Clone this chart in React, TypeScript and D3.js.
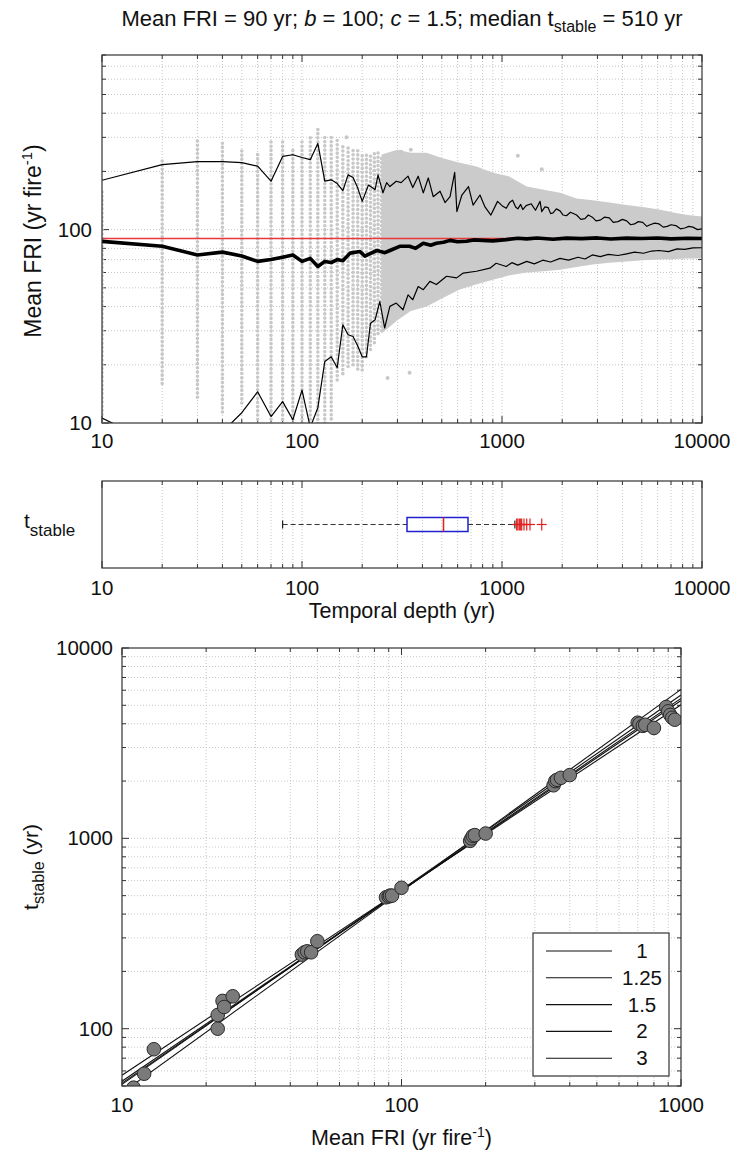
import React from 'react';
import * as d3 from 'd3';

const FONT = "'Liberation Sans', Arial, Helvetica, sans-serif";

// ---------- Top panel: sample mean FRI vs temporal depth ----------
const colDepth = [10, 20, 30, 40, 50, 60, 70, 80, 90, 100, 110, 120, 130, 140, 150, 160, 170, 180, 190, 200, 210, 220, 230, 240, 250];
const colLo = [10, 16, 13.6, 11.4, 12.7, 9, 9, 9, 9, 9, 9, 9, 9.5, 10.5, 16.7, 18, 19.6, 20, 19, 18.8, 22, 24, 26, 29, 30];
const colHi = [157, 236, 297, 284, 259, 253, 292, 292, 259, 284, 303, 342, 310, 300, 290, 280, 270, 265, 260, 250, 245, 250, 255, 250, 245];

const cloudDepth = [250, 300, 350, 420, 500, 615, 740, 900, 1080, 1330, 1620, 1950, 2360, 2830, 3440, 4200, 5050, 6100, 7400, 8500, 10000];
const cloudLo = [29, 34, 38, 40, 44, 49, 52, 55, 58, 60, 61, 62, 64, 66, 67.5, 68.5, 69.5, 70, 70.5, 71, 71];
const cloudHi = [245, 259, 250, 250, 235, 222, 213, 197, 189, 167, 161, 155, 145, 142, 138, 134, 131, 127, 122, 119, 117];

const outDepth = [167, 313, 350, 1200, 1580, 345, 268];
const outFRI = [300, 253, 259, 241, 205, 18.2, 17.1];

const upperDepth = [10, 20, 30, 40, 50, 60, 70, 80, 90, 100, 110, 120, 130, 140, 150, 160, 170, 180, 190, 200, 215, 232, 240, 254, 265, 275, 296, 313, 339, 358, 381, 404, 428, 453, 490, 519, 550, 580, 595, 630, 680, 717, 776, 822, 880, 950, 1000, 1050, 1090, 1130, 1170, 1200, 1240, 1270, 1320, 1400, 1470, 1550, 1580, 1640, 1700, 1750, 1800, 1870, 1950, 2020, 2100, 2200, 2360, 2480, 2600, 2700, 2830, 2950, 3100, 3250, 3440, 3600, 3800, 4000, 4200, 4400, 4600, 4800, 5050, 5300, 5500, 5800, 6100, 6400, 6700, 7000, 7400, 7800, 8200, 8600, 9000, 9500, 10000];
const upperFRI = [180, 217, 225, 225, 222, 213, 178, 239, 244, 236, 230, 279, 178, 181, 173, 159, 192, 186, 164, 140, 170, 161, 192, 155, 175, 167, 178, 175, 189, 165, 189, 155, 185, 148, 158, 138, 148, 198, 124, 151, 167, 134, 151, 131, 119, 140, 133, 129, 138, 142, 131, 128, 135, 127, 133, 136, 126, 140, 124, 131, 130, 121, 122, 128, 125, 119, 118, 123, 119, 113, 114, 119, 116, 111, 112, 116, 115, 109, 110, 113, 111, 106, 107, 110, 109, 104, 106, 108, 107, 103, 104, 106, 105, 101, 102, 104, 103, 100, 101];

const meanDepth = [10, 20, 30, 40, 50, 60, 70, 80, 90, 100, 110, 120, 130, 140, 150, 160, 174, 195, 206, 237, 260, 275, 308, 345, 370, 404, 440, 470, 510, 550, 600, 665, 720, 800, 900, 1050, 1200, 1330, 1500, 1800, 2100, 2500, 3000, 3500, 4200, 5000, 6000, 7000, 8500, 10000];
const meanFRI = [87, 82, 74, 76.5, 73, 68.5, 70, 72, 74, 68.5, 71, 64.5, 68.5, 67.6, 70, 69, 75.6, 77, 73, 78, 76, 78, 82, 82, 80, 85, 83, 85, 86, 88, 86.5, 87, 88.5, 88, 87.5, 88.8, 90.3, 89.6, 90.5, 89.2, 90.4, 89.8, 90.6, 89.5, 90.4, 89.9, 90.5, 89.6, 90.3, 90];

const lowerDepth = [10, 20, 30, 40, 50, 60, 70, 80, 90, 100, 110, 120, 130, 140, 150, 160, 170, 180, 190, 200, 210, 220, 232, 245, 259, 275, 296, 320, 339, 358, 381, 404, 436, 470, 528, 593, 640, 745, 870, 935, 1050, 1120, 1200, 1330, 1450, 1600, 1750, 1950, 2150, 2400, 2600, 2830, 3100, 3400, 3800, 4200, 4600, 5100, 5600, 6100, 6800, 7500, 8200, 9000, 10000];
const lowerFRI = [10.6, 7.5, 7, 9, 11.3, 14.5, 10.8, 12.9, 10.4, 14.8, 9.5, 12, 20.8, 22, 19.3, 32.2, 28.6, 28, 25, 22, 22, 32.8, 34.2, 42.5, 31, 40.1, 41.7, 38.5, 46, 43.4, 50.8, 48.9, 54, 52, 57.4, 56.3, 59.6, 60.9, 63.2, 67, 64.5, 67.5, 65.5, 68.5, 66.5, 69.5, 68, 71, 69.5, 72, 70.5, 74, 72.5, 74.5, 73.5, 75, 76.5, 75.5, 77.5, 78, 77, 79.5, 79, 80.5, 80.6];

const trueFRI = 90;

// ---------- Middle panel: box plot of t_stable ----------
const boxWhiskerLo = 80;
const boxQ1 = 335;
const boxMedian = 510;
const boxQ3 = 676;
const boxWhiskerHi = 1160;
const boxOutliers = [1184, 1200, 1221, 1240, 1254, 1288, 1329, 1380, 1580];

// ---------- Bottom panel: t_stable vs mean FRI ----------
const ptFRI = [11, 12, 13, 22, 22, 22.9, 23.2, 24.9, 44, 45, 46, 47.5, 50, 88, 90, 91, 92.5, 100, 176, 178, 180, 183, 200, 350, 355, 360, 372, 400, 700, 710, 730, 745, 800, 885, 900, 915, 930, 950];
const ptStable = [49, 58, 78, 100, 118, 140, 130, 148, 245, 252, 255, 252, 288, 490, 495, 500, 500, 550, 970, 1000, 1030, 1040, 1060, 1900, 2000, 2030, 2080, 2150, 4050, 4000, 3900, 3950, 3800, 4900, 4650, 4450, 4300, 4200];

const fitLabels = ['1', '1.25', '1.5', '2', '3'];
const fitAt10 = [57, 53, 51.8, 51, 46];
const fitAt1000 = [5030, 5300, 5440, 5660, 6060];

function logTicks(lo: number, hi: number) {
  const out: { v: number; major: boolean }[] = [];
  for (let e = Math.floor(Math.log10(lo)); e <= Math.ceil(Math.log10(hi)); e++) {
    for (let k = 1; k < 10; k++) {
      const v = k * Math.pow(10, e);
      if (v >= lo * 0.999 && v <= hi * 1.001) out.push({ v, major: k === 1 });
    }
  }
  return out;
}

const GRID = { stroke: '#b8b8b8', strokeWidth: 0.8, strokeDasharray: '1,2' };
const AX = '#333';

function Frame({ x0, x1, y0, y1 }: any) {
  return <rect x={x0} y={y0} width={x1 - x0} height={y1 - y0} fill="none" stroke={AX} strokeWidth={1.2} />;
}

function XGridTicks({ sx, y0, y1 }: any) {
  const [lo, hi] = sx.domain();
  const ts = logTicks(lo, hi);
  return (
    <g>
      {ts.map((t, i) => {
        const x = sx(t.v);
        const len = t.major ? 7 : 4;
        const edge = Math.abs(t.v - lo) < 1e-6 || Math.abs(t.v - hi) < 1e-6;
        return (
          <g key={i}>
            {!edge && <line x1={x} x2={x} y1={y0} y2={y1} {...GRID} />}
            <line x1={x} x2={x} y1={y1} y2={y1 - len} stroke={AX} strokeWidth={1} />
            <line x1={x} x2={x} y1={y0} y2={y0 + len} stroke={AX} strokeWidth={1} />
          </g>
        );
      })}
    </g>
  );
}

function YGridTicks({ sy, x0, x1 }: any) {
  const [lo, hi] = sy.domain();
  const ts = logTicks(lo, hi);
  return (
    <g>
      {ts.map((t, i) => {
        const y = sy(t.v);
        const len = t.major ? 7 : 4;
        const edge = Math.abs(t.v - lo) < 1e-6 || Math.abs(t.v - hi) < 1e-6;
        return (
          <g key={i}>
            {!edge && <line x1={x0} x2={x1} y1={y} y2={y} {...GRID} />}
            <line x1={x0} x2={x0 + len} y1={y} y2={y} stroke={AX} strokeWidth={1} />
            <line x1={x1} x2={x1 - len} y1={y} y2={y} stroke={AX} strokeWidth={1} />
          </g>
        );
      })}
    </g>
  );
}

export default function App() {
  const W = 733, H = 1157;

  // top panel
  const T = { x0: 102, x1: 702, y0: 55, y1: 423 };
  const tx = d3.scaleLog().domain([10, 10000]).range([T.x0, T.x1]);
  const ty = d3.scaleLog().domain([10, 800]).range([T.y1, T.y0]);

  // box panel
  const B = { x0: 102, x1: 702, y0: 481, y1: 568 };
  const bxs = d3.scaleLog().domain([10, 10000]).range([B.x0, B.x1]);
  const bcy = (B.y0 + B.y1) / 2;

  // bottom panel
  const P = { x0: 122, x1: 681, y0: 648, y1: 1086 };
  const px = d3.scaleLog().domain([10, 1000]).range([P.x0, P.x1]);
  const py = d3.scaleLog().domain([50, 10000]).range([P.y1, P.y0]);

  const cloud = cloudDepth.map((t, i) => ({ t, lo: cloudLo[i], hi: cloudHi[i] }));
  const areaGen = d3.area<any>().x(d => tx(d.t)).y0(d => ty(d.lo)).y1(d => ty(d.hi));
  const lineGen = (xs: number[], ys: number[]) =>
    d3.line<number>().x((_, i) => tx(xs[i])).y(v => ty(v))(ys) as string;

  const topXLabels = [10, 100, 1000, 10000];
  const topYLabels = [10, 100];
  const botXLabels = [10, 100, 1000];
  const botYLabels = [100, 1000, 10000];
  const TICKF = 20.5;

  return (
    <svg width={W} height={H} style={{ position: 'absolute', left: 0, top: 0, background: '#fff' }} fontFamily={FONT}>
      <defs>
        <clipPath id="clipTop"><rect x={T.x0} y={T.y0} width={T.x1 - T.x0} height={T.y1 - T.y0} /></clipPath>
        <clipPath id="clipBot"><rect x={P.x0} y={P.y0} width={P.x1 - P.x0} height={P.y1 - P.y0} /></clipPath>
      </defs>
      <rect x={0} y={0} width={W} height={H} fill="#fff" />

      {/* Title */}
      <text x={(T.x0 + T.x1) / 2} y={26} fontSize={22} textAnchor="middle" fill="#111">
        Mean FRI = 90 yr; <tspan fontStyle="italic">b</tspan> = 100; <tspan fontStyle="italic">c</tspan> = 1.5; median t
        <tspan dy={6} fontSize={16}>stable</tspan>
        <tspan dy={-6}> = 510 yr</tspan>
      </text>

      {/* ---------- Top panel ---------- */}
      <XGridTicks sx={tx} y0={T.y0} y1={T.y1} />
      <YGridTicks sy={ty} x0={T.x0} x1={T.x1} />
      <g clipPath="url(#clipTop)">
        {colDepth.map((t, i) => (
          <line key={i} x1={tx(t)} x2={tx(t)} y1={ty(colLo[i])} y2={ty(colHi[i])}
            stroke="#c8c8c8" strokeWidth={3.6} strokeDasharray="0 4.2" strokeLinecap="round" />
        ))}
        <path d={areaGen(cloud) as string} fill="#cbcbcb" />
        {outDepth.map((t, i) => (
          <circle key={i} cx={tx(t)} cy={ty(outFRI[i])} r={2} fill="#c8c8c8" />
        ))}
        <line x1={T.x0} x2={T.x1} y1={ty(trueFRI)} y2={ty(trueFRI)} stroke="#e8383d" strokeWidth={1.3} />
        <path d={lineGen(upperDepth, upperFRI)} fill="none" stroke="#000" strokeWidth={1.2} strokeLinejoin="round" />
        <path d={lineGen(lowerDepth, lowerFRI)} fill="none" stroke="#000" strokeWidth={1.2} strokeLinejoin="round" />
        <path d={lineGen(meanDepth, meanFRI)} fill="none" stroke="#000" strokeWidth={3.6} strokeLinejoin="round" />
      </g>
      <Frame {...T} />
      {topXLabels.map(v => (
        <text key={v} x={tx(v)} y={T.y1 + 25} fontSize={TICKF} textAnchor="middle" fill="#111">{v}</text>
      ))}
      {topYLabels.map(v => (
        <text key={v} x={T.x0 - 10} y={ty(v) + 7} fontSize={TICKF} textAnchor="end" fill="#111">{v}</text>
      ))}
      <text transform={`translate(41, ${(T.y0 + T.y1) / 2 + 2}) rotate(-90)`} fontSize={23} textAnchor="middle" fill="#111">
        Mean FRI (yr fire<tspan dy={-9} fontSize={15}>-1</tspan><tspan dy={9}>)</tspan>
      </text>

      {/* ---------- Box panel ---------- */}
      <XGridTicks sx={bxs} y0={B.y0} y1={B.y1} />
      <line x1={bxs(boxWhiskerLo)} x2={bxs(boxQ1)} y1={bcy} y2={bcy} stroke="#333" strokeWidth={1.2} strokeDasharray="5,3" />
      <line x1={bxs(boxQ3)} x2={bxs(boxWhiskerHi)} y1={bcy} y2={bcy} stroke="#333" strokeWidth={1.2} strokeDasharray="5,3" />
      <line x1={bxs(boxWhiskerLo)} x2={bxs(boxWhiskerLo)} y1={bcy - 4} y2={bcy + 4} stroke="#222" strokeWidth={1.2} />
      <line x1={bxs(boxWhiskerHi)} x2={bxs(boxWhiskerHi)} y1={bcy - 4} y2={bcy + 4} stroke="#222" strokeWidth={1.2} />
      <rect x={bxs(boxQ1)} y={bcy - 7} width={bxs(boxQ3) - bxs(boxQ1)} height={14} fill="none" stroke="#2020d0" strokeWidth={1.5} />
      <line x1={bxs(boxMedian)} x2={bxs(boxMedian)} y1={bcy - 7} y2={bcy + 7} stroke="#e02020" strokeWidth={1.5} />
      {boxOutliers.map((v, i) => (
        <g key={i} stroke="#e02020" strokeWidth={1.2}>
          <line x1={bxs(v) - 5} x2={bxs(v) + 5} y1={bcy} y2={bcy} />
          <line x1={bxs(v)} x2={bxs(v)} y1={bcy - 6} y2={bcy + 6} />
        </g>
      ))}
      <Frame {...B} />
      {topXLabels.map(v => (
        <text key={v} x={bxs(v)} y={B.y1 + 27} fontSize={TICKF} textAnchor="middle" fill="#111">{v}</text>
      ))}
      <text x={(B.x0 + B.x1) / 2} y={B.y1 + 50} fontSize={21.5} textAnchor="middle" fill="#111">Temporal depth (yr)</text>
      <text x={24} y={bcy + 3} fontSize={21} fill="#111">t<tspan dy={8} fontSize={17}>stable</tspan></text>

      {/* ---------- Bottom panel ---------- */}
      <XGridTicks sx={px} y0={P.y0} y1={P.y1} />
      <YGridTicks sy={py} x0={P.x0} x1={P.x1} />
      <g clipPath="url(#clipBot)">
        {fitLabels.map((l, i) => (
          <line key={l} x1={px(10)} x2={px(1000)} y1={py(fitAt10[i])} y2={py(fitAt1000[i])} stroke="#111" strokeWidth={1.1} />
        ))}
        {ptFRI.map((f, i) => (
          <circle key={i} cx={px(f)} cy={py(ptStable[i])} r={6.8} fill="#7a7a7a" stroke="#2a2a2a" strokeWidth={1} />
        ))}
      </g>
      <Frame {...P} />
      {/* legend */}
      <g>
        <rect x={533} y={933} width={136} height={143} fill="#fff" stroke={AX} strokeWidth={1.2} />
        {fitLabels.map((l, i) => {
          const y = 951 + i * 26.8;
          return (
            <g key={l}>
              <line x1={546} x2={612} y1={y} y2={y} stroke="#111" strokeWidth={1.1} />
              <text x={642} y={y + 7} fontSize={TICKF} textAnchor="middle" fill="#111">{l}</text>
            </g>
          );
        })}
      </g>
      {botXLabels.map(v => (
        <text key={v} x={px(v)} y={P.y1 + 26} fontSize={TICKF} textAnchor="middle" fill="#111">{v}</text>
      ))}
      {botYLabels.map(v => (
        <text key={v} x={P.x0 - 9} y={py(v) + 7} fontSize={TICKF} textAnchor="end" fill="#111">{v}</text>
      ))}
      <text x={(P.x0 + P.x1) / 2} y={1145} fontSize={21.5} textAnchor="middle" fill="#111">
        Mean FRI (yr fire<tspan dy={-8} fontSize={14}>-1</tspan><tspan dy={8}>)</tspan>
      </text>
      <text transform={`translate(38, ${(P.y0 + P.y1) / 2}) rotate(-90)`} fontSize={21} textAnchor="middle" fill="#111">
        t<tspan dy={6} fontSize={16}>stable</tspan><tspan dy={-6}> (yr)</tspan>
      </text>
    </svg>
  );
}
